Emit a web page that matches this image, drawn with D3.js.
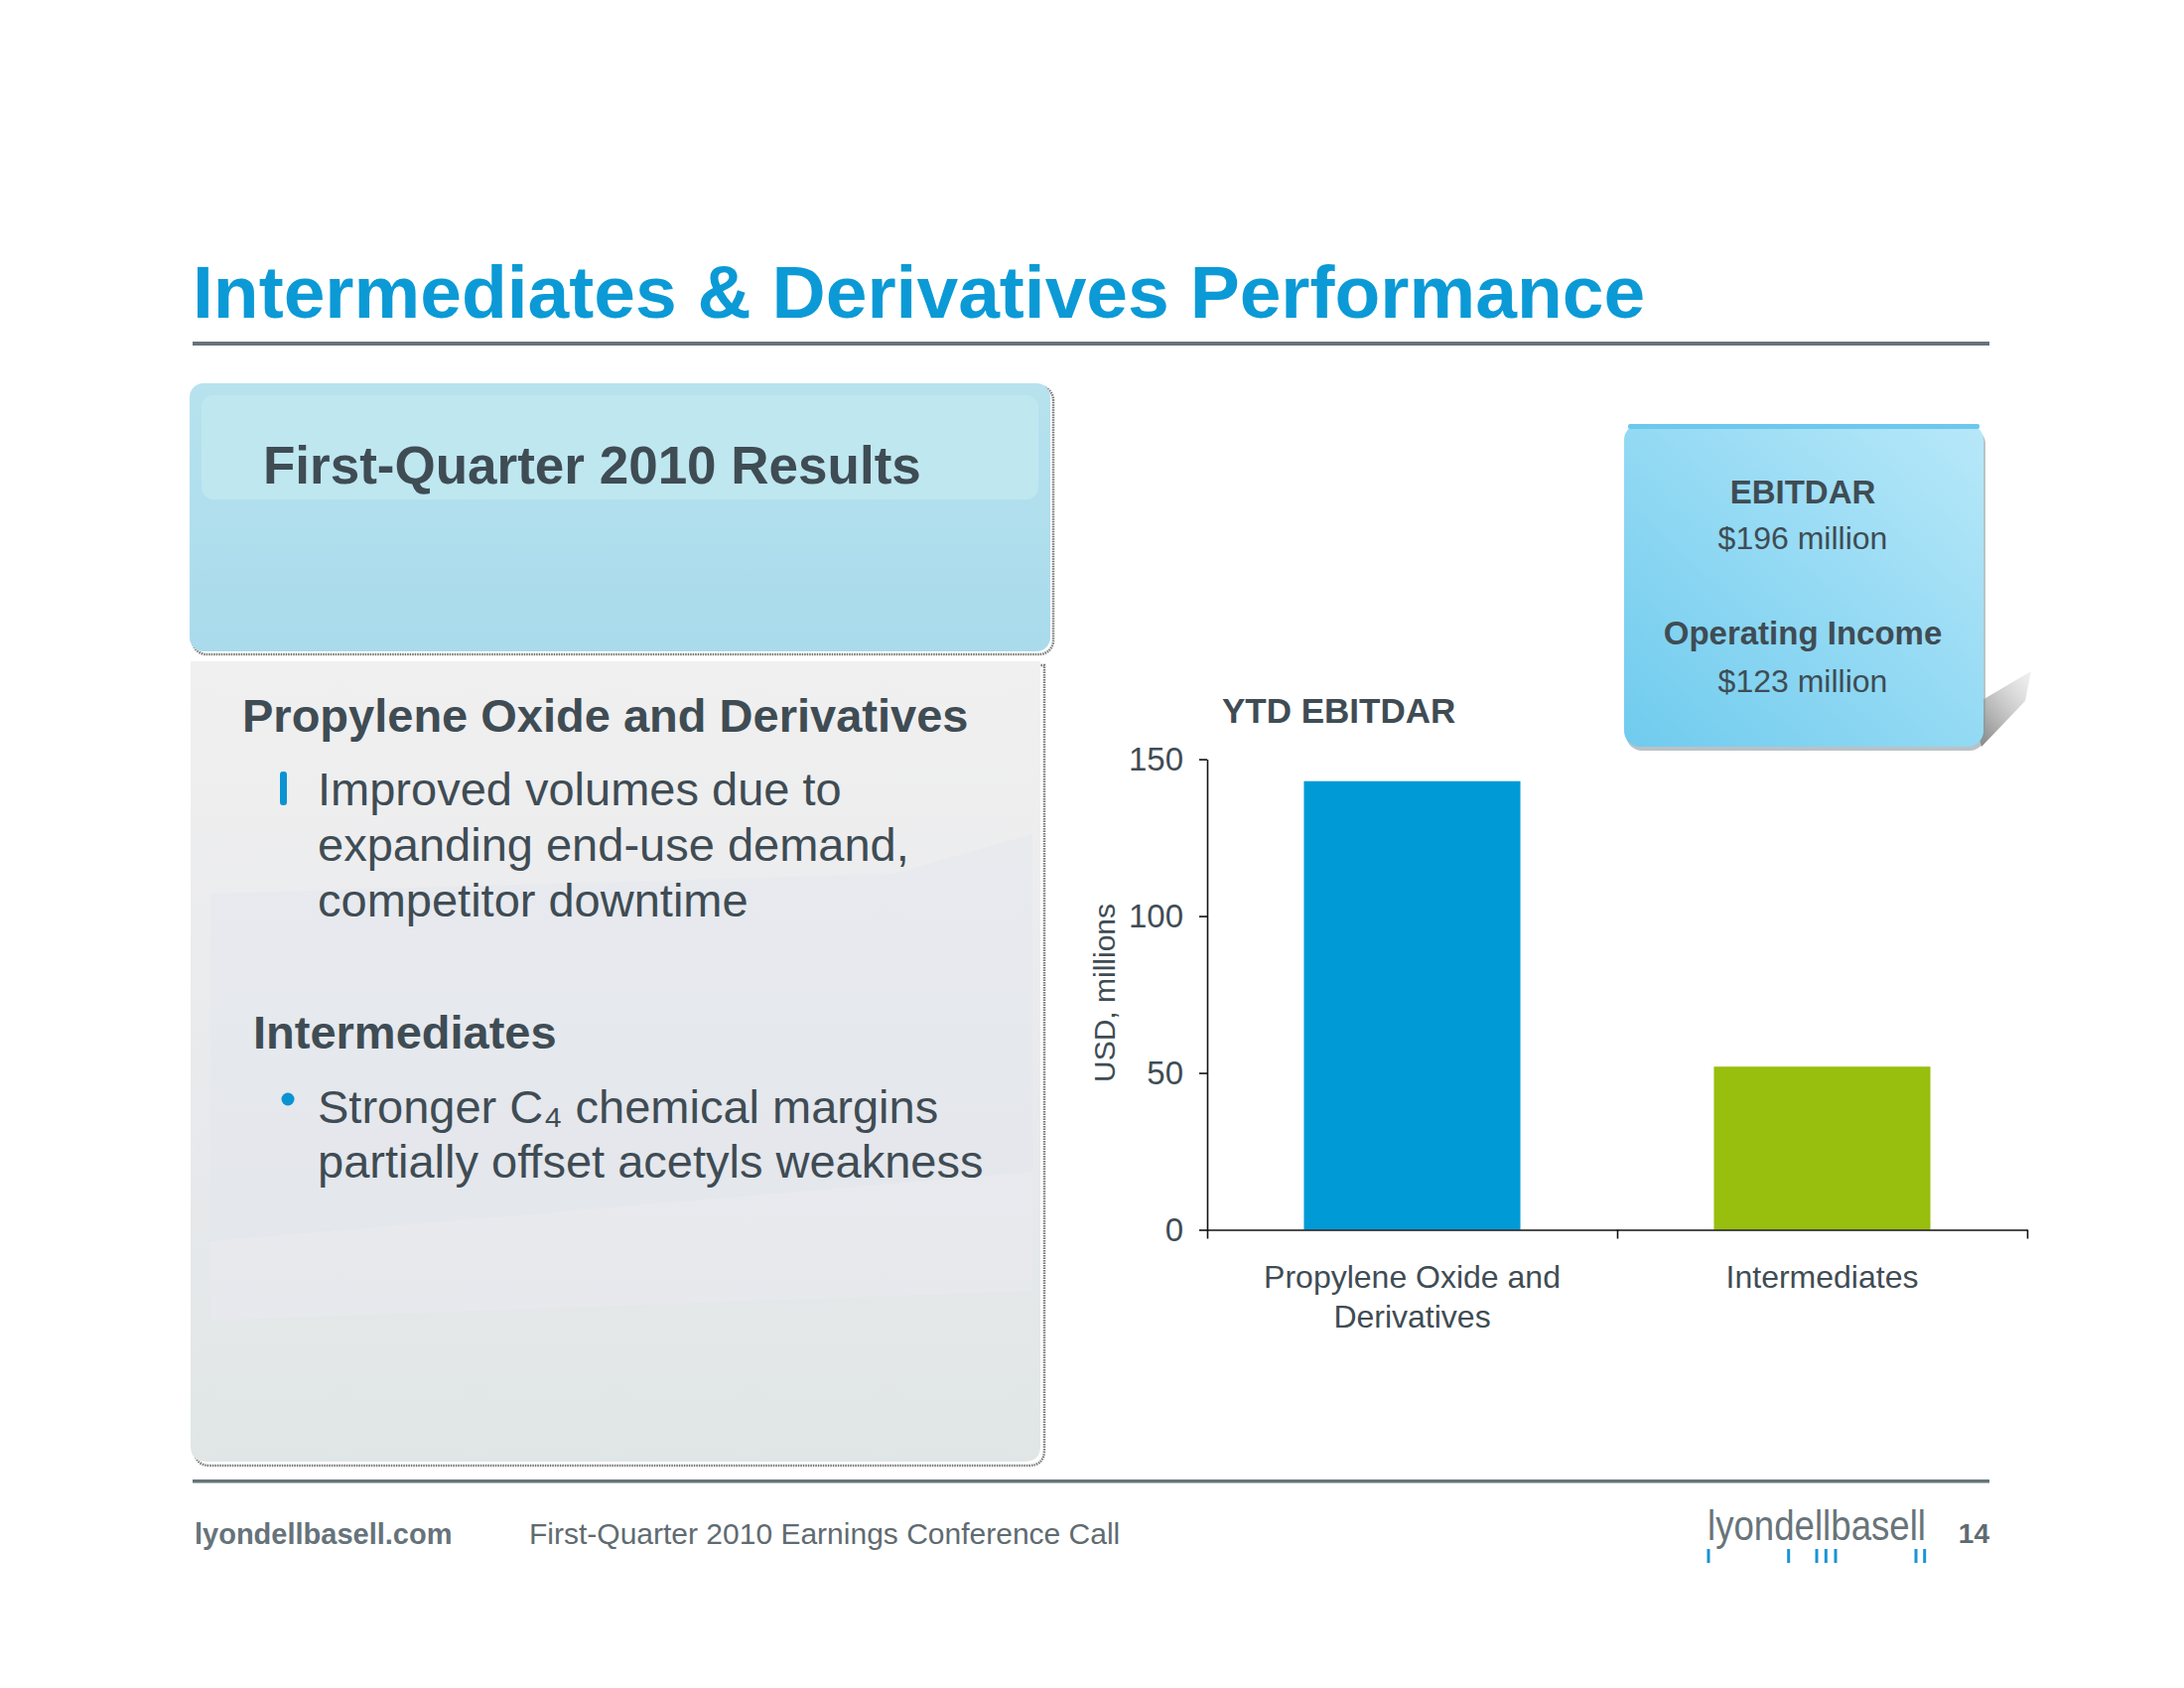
<!DOCTYPE html>
<html>
<head>
<meta charset="utf-8">
<script src="https://cdn.jsdelivr.net/npm/d3@7"></script>
<style>
  body { margin: 0; background: #fff; }
  svg { display: block; font-family: "Liberation Sans", Arial, sans-serif; }
</style>
</head>
<body>
<div id="plot"></div>
<script>
// chart data
const categories = ["Propylene Oxide and Derivatives", "Intermediates"];
const categoryLines = [["Propylene Oxide and", "Derivatives"], ["Intermediates"]];
const ytdEbitdar = [143, 52];
const yTicks = [0, 50, 100, 150];
const barColors = ["#009bd6", "#98be0e"];

// callout box figures
const calloutLabels = ["EBITDAR", "Operating Income"];
const calloutValues = ["$196 million", "$123 million"];

const width = 2200, height = 1700;
const textColor = "#3f4c54";

const svg = d3.select("#plot")
  .append("svg")
    .attr("width", width)
    .attr("height", height);

const defs = svg.append("defs");

const hdrGrad = defs.append("linearGradient").attr("id", "hdrGrad")
  .attr("x1", 0).attr("y1", 0).attr("x2", 0).attr("y2", 1);
hdrGrad.append("stop").attr("offset", "0%").attr("stop-color", "#b7e2ee");
hdrGrad.append("stop").attr("offset", "100%").attr("stop-color", "#a9dbec");

const bodyGrad = defs.append("linearGradient").attr("id", "bodyGrad")
  .attr("x1", 0).attr("y1", 0).attr("x2", 0).attr("y2", 1);
bodyGrad.append("stop").attr("offset", "0%").attr("stop-color", "#f0f0f0");
bodyGrad.append("stop").attr("offset", "60%").attr("stop-color", "#e8e9ec");
bodyGrad.append("stop").attr("offset", "100%").attr("stop-color", "#e0e6e6");

const boxGrad = defs.append("linearGradient").attr("id", "boxGrad")
  .attr("x1", 0).attr("y1", 1).attr("x2", 1).attr("y2", 0);
boxGrad.append("stop").attr("offset", "0%").attr("stop-color", "#6fcbee");
boxGrad.append("stop").attr("offset", "100%").attr("stop-color", "#b8e8f9");

const shadowGrad = defs.append("linearGradient").attr("id", "shadowGrad")
  .attr("x1", 0).attr("y1", 1).attr("x2", 1).attr("y2", 0);
shadowGrad.append("stop").attr("offset", "0%").attr("stop-color", "#666").attr("stop-opacity", 0.9);
shadowGrad.append("stop").attr("offset", "100%").attr("stop-color", "#bbb").attr("stop-opacity", 0.2);

// ---- title ----
svg.append("text")
  .attr("x", 194).attr("y", 320)
  .attr("font-size", 75).attr("font-weight", "bold")
  .attr("fill", "#0b9ad6")
  .text("Intermediates & Derivatives Performance");

svg.append("rect").attr("x", 194).attr("y", 344).attr("width", 1810).attr("height", 4).attr("fill", "#68747a");

// ---- left panel ----
// header box with dotted shadow
svg.append("rect").attr("x", 194).attr("y", 389).attr("width", 867).attr("height", 270).attr("rx", 14)
  .attr("fill", "none").attr("stroke", "#777").attr("stroke-width", 2.5).attr("stroke-dasharray", "1.5,1");
svg.append("rect").attr("x", 191).attr("y", 386).attr("width", 867).attr("height", 270).attr("rx", 14)
  .attr("fill", "url(#hdrGrad)");
svg.append("rect").attr("x", 203).attr("y", 398).attr("width", 843).attr("height", 105).attr("rx", 12)
  .attr("fill", "#c2e8f0").attr("opacity", 0.8);

svg.append("text")
  .attr("x", 265).attr("y", 487)
  .attr("font-size", 53).attr("font-weight", "bold")
  .attr("fill", textColor)
  .text("First-Quarter 2010 Results");

// body panel, rounded bottom corners only
function bodyPath(x, y, w, h, r) {
  return `M${x},${y}H${x + w}V${y + h - r}Q${x + w},${y + h} ${x + w - r},${y + h}H${x + r}Q${x},${y + h} ${x},${y + h - r}Z`;
}
svg.append("path").attr("d", bodyPath(196, 670, 856, 806, 16))
  .attr("fill", "none").attr("stroke", "#777").attr("stroke-width", 2.5).attr("stroke-dasharray", "1.5,1");
svg.append("path").attr("d", bodyPath(192, 666, 856, 806, 16)).attr("fill", "url(#bodyGrad)");
// faint background swooshes
svg.append("path")
  .attr("d", "M212,900 L900,880 L1040,840 L1040,1180 L212,1250 Z")
  .attr("fill", "#dfe6ee").attr("opacity", 0.35);
svg.append("path")
  .attr("d", "M212,1250 L1040,1180 L1040,1300 L212,1330 Z")
  .attr("fill", "#ececf2").attr("opacity", 0.4);

svg.append("text").attr("x", 244).attr("y", 737)
  .attr("font-size", 47).attr("font-weight", "bold").attr("fill", textColor)
  .text("Propylene Oxide and Derivatives");

svg.append("rect").attr("x", 282).attr("y", 777).attr("width", 7).attr("height", 34).attr("rx", 3).attr("fill", "#0a93d3");

const bullet1 = ["Improved volumes due to", "expanding end-use demand,", "competitor downtime"];
svg.append("g").selectAll("text").data(bullet1).join("text")
  .attr("x", 320).attr("y", (d, i) => 811 + i * 56)
  .attr("font-size", 47).attr("fill", textColor)
  .text(d => d);

svg.append("text").attr("x", 255).attr("y", 1056)
  .attr("font-size", 47).attr("font-weight", "bold").attr("fill", textColor)
  .text("Intermediates");

svg.append("circle").attr("cx", 290).attr("cy", 1107).attr("r", 6.5).attr("fill", "#0a93d3");

const bullet2 = ["Stronger C\u2084 chemical margins", "partially offset acetyls weakness"];
svg.append("g").selectAll("text").data(bullet2).join("text")
  .attr("x", 320).attr("y", (d, i) => 1131 + i * 55)
  .attr("font-size", 47).attr("fill", textColor)
  .text(d => d);

// ---- callout box ----
svg.append("path")
  .attr("d", "M1985,712 L2046,676 L2040,706 L1996,752 Z")
  .attr("fill", "url(#shadowGrad)");
svg.append("rect").attr("x", 1638).attr("y", 431).attr("width", 362).attr("height", 325).attr("rx", 16)
  .attr("fill", "#8a9aa2").attr("opacity", 0.6);
svg.append("rect").attr("x", 1636).attr("y", 427).attr("width", 362).attr("height", 325).attr("rx", 16)
  .attr("fill", "url(#boxGrad)");
svg.append("rect").attr("x", 1640).attr("y", 427).attr("width", 354).attr("height", 5).attr("rx", 2)
  .attr("fill", "#6cc8ec");

const boxCx = 1816;
calloutLabels.forEach((lab, i) => {
  svg.append("text").attr("x", boxCx).attr("y", 507 + i * 142)
    .attr("text-anchor", "middle").attr("font-size", 33).attr("font-weight", "bold")
    .attr("fill", textColor).text(lab);
  svg.append("text").attr("x", boxCx).attr("y", 553 + i * 144)
    .attr("text-anchor", "middle").attr("font-size", 32)
    .attr("fill", textColor).text(calloutValues[i]);
});

// ---- bar chart ----
const plot = { left: 1216, right: 2042, top: 764.6, bottom: 1238.5 };

svg.append("text").attr("x", 1231).attr("y", 728)
  .attr("font-size", 35).attr("font-weight", "bold").attr("fill", textColor)
  .text("YTD EBITDAR");

const x = d3.scaleBand()
  .domain(categories)
  .range([plot.left, plot.right])
  .paddingInner(0.472)
  .paddingOuter(0.236);

const y = d3.scaleLinear()
  .domain([0, 150])
  .range([plot.bottom, plot.top]);

svg.append("g").selectAll("rect")
  .data(categories)
  .join("rect")
    .attr("x", d => x(d))
    .attr("y", (d, i) => y(ytdEbitdar[i]))
    .attr("width", x.bandwidth())
    .attr("height", (d, i) => y(0) - y(ytdEbitdar[i]))
    .attr("fill", (d, i) => barColors[i]);

// y axis
const yAxis = svg.append("g")
  .attr("transform", `translate(${plot.left},0)`)
  .call(d3.axisLeft(y).tickValues(yTicks).tickSize(8).tickSizeOuter(0).tickPadding(16));
yAxis.selectAll("text").attr("font-size", 33).attr("fill", textColor).attr("font-family", "Liberation Sans, Arial, sans-serif");
yAxis.selectAll("line, path").attr("stroke", "#111").attr("stroke-width", 1.6);

svg.append("text")
  .attr("transform", `translate(1123,1000) rotate(-90)`)
  .attr("text-anchor", "middle")
  .attr("font-size", 30).attr("fill", textColor)
  .text("USD, millions");

// x axis: ticks at category boundaries
const xEdge = d3.scaleLinear().domain([0, categories.length]).range([plot.left, plot.right]);
const xAxis = svg.append("g")
  .attr("transform", `translate(0,${plot.bottom})`)
  .call(d3.axisBottom(xEdge).tickValues(d3.range(categories.length + 1)).tickSize(9).tickSizeOuter(0).tickFormat(""));
xAxis.selectAll("line, path").attr("stroke", "#111").attr("stroke-width", 1.6);

// category labels
const xLabels = svg.append("g")
  .attr("transform", `translate(0,${plot.bottom})`)
  .call(d3.axisBottom(x).tickSize(0).tickFormat(""));
xLabels.select(".domain").remove();
xLabels.selectAll(".tick").append("text")
  .attr("text-anchor", "middle")
  .attr("font-size", 32).attr("fill", textColor)
  .attr("font-family", "Liberation Sans, Arial, sans-serif")
  .selectAll("tspan")
  .data((d, i) => categoryLines[categories.indexOf(d)])
  .join("tspan")
    .attr("x", 0)
    .attr("y", (d, i) => 58 + i * 40)
    .text(d => d);

// ---- footer ----
svg.append("rect").attr("x", 194).attr("y", 1490).attr("width", 1810).attr("height", 3.5).attr("fill", "#68747a");

svg.append("text").attr("x", 196).attr("y", 1555)
  .attr("font-size", 29).attr("font-weight", "bold").attr("fill", "#66737a")
  .text("lyondellbasell.com");
svg.append("text").attr("x", 533).attr("y", 1555)
  .attr("font-size", 30).attr("fill", "#5f6b71")
  .text("First-Quarter 2010 Earnings Conference Call");

svg.append("text").attr("x", 1720).attr("y", 1551)
  .attr("font-size", 42).attr("fill", "#68747a")
  .attr("textLength", 220).attr("lengthAdjust", "spacingAndGlyphs")
  .text("lyondellbasell");
const logoMarks = [1721, 1801.7, 1830, 1839.3, 1849, 1930, 1938.7];
svg.append("g").selectAll("rect").data(logoMarks).join("rect")
  .attr("x", d => d - 1.5).attr("y", 1560).attr("width", 3).attr("height", 14)
  .attr("fill", "#1a94d3");

svg.append("text").attr("x", 2004).attr("y", 1554)
  .attr("text-anchor", "end")
  .attr("font-size", 28).attr("font-weight", "bold").attr("fill", "#5f6b71")
  .text("14");
</script>
</body>
</html>
